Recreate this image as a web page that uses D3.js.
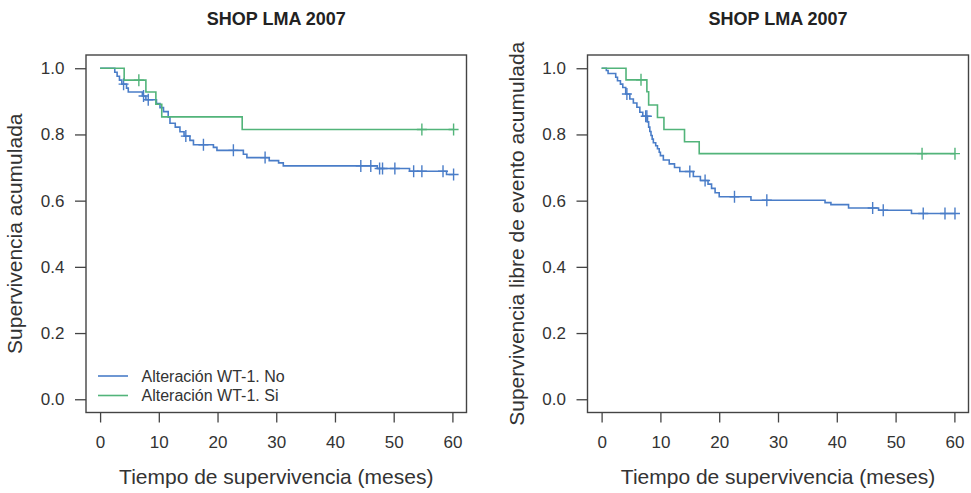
<!DOCTYPE html>
<html>
<head>
<meta charset="utf-8">
<script src="https://cdn.jsdelivr.net/npm/d3@7"></script>
<style>
  html, body { margin: 0; padding: 0; background: #fff; }
  svg { display: block; font-family: "Liberation Sans", Arial, sans-serif; }
</style>
</head>
<body>
<svg id="chart" width="971" height="493"></svg>
<script>
// Kaplan-Meier step data: event times (months) and survival after each step
const groupNames = ["Alteración WT-1. No", "Alteración WT-1. Si"];
const groupColors = ["#4a7dc8", "#52b47a"];

// Overall survival, WT-1 not altered
const osNoTime = [0, 2.5, 2.9, 3.3, 3.7, 4.5, 4.8, 7.2, 7.8, 9.6, 10.2, 10.8, 11.6, 11.9, 12.8, 13.6, 14.3, 15.3, 15.9, 19.3, 19.9, 24.4, 25.0, 28.8, 30.4, 31.2, 47.2, 52.7, 59.0];
const osNoSurv = [1.0, 0.988, 0.976, 0.964, 0.952, 0.940, 0.928, 0.916, 0.905, 0.893, 0.881, 0.869, 0.852, 0.834, 0.822, 0.808, 0.795, 0.782, 0.769, 0.761, 0.752, 0.740, 0.730, 0.721, 0.714, 0.705, 0.697, 0.689, 0.679];
const osNoCens = [4.0, 7.4, 8.2, 14.6, 17.6, 22.7, 28.1, 44.4, 46.1, 47.6, 48.1, 50.2, 53.4, 54.8, 58.4, 60.2];

// Overall survival, WT-1 altered
const osSiTime = [0, 4.1, 7.8, 9.5, 10.5, 24.2];
const osSiSurv = [1.0, 0.964, 0.928, 0.891, 0.853, 0.815];
const osSiCens = [6.6, 54.8, 60.2];

// Event-free survival, WT-1 not altered
const efsNoTime = [0, 0.8, 1.1, 2.4, 2.7, 3.2, 3.6, 4.1, 4.8, 5.4, 6.0, 6.5, 7.0, 7.8, 8.0, 8.2, 8.4, 8.6, 8.8, 9.2, 9.5, 9.8, 10.0, 10.5, 11.5, 12.4, 13.3, 15.6, 16.8, 18.1, 18.7, 19.3, 20.0, 25.4, 38.0, 39.0, 42.0, 47.1, 52.7];
const efsNoSurv = [1.0, 0.993, 0.984, 0.973, 0.962, 0.952, 0.942, 0.922, 0.907, 0.895, 0.882, 0.867, 0.855, 0.838, 0.822, 0.809, 0.797, 0.786, 0.775, 0.766, 0.757, 0.746, 0.736, 0.723, 0.711, 0.700, 0.688, 0.673, 0.661, 0.650, 0.637, 0.624, 0.612, 0.601, 0.594, 0.588, 0.578, 0.571, 0.561];
const efsNoCens = [4.3, 7.5, 7.7, 15.0, 17.6, 22.6, 28.1, 46.1, 47.9, 54.7, 58.4, 60.1];

// Event-free survival, WT-1 altered
const efsSiTime = [0, 4.15, 7.7, 8.0, 9.5, 10.6, 14.1, 16.6];
const efsSiSurv = [1.0, 0.965, 0.929, 0.889, 0.851, 0.815, 0.778, 0.742];
const efsSiCens = [6.7, 54.5, 60.1];

const xTicks = [0, 10, 20, 30, 40, 50, 60];
const yTicks = [0, 0.2, 0.4, 0.6, 0.8, 1.0];
const plotTitle = "SHOP LMA 2007";
const xLabel = "Tiempo de supervivencia (meses)";
const yLabels = ["Supervivencia acumulada", "Supervivencia libre de evento acumulada"];

const panels = [
  { left: 86, right: 466.5, yLabel: yLabels[0], legend: true,
    series: [
      { time: osNoTime, surv: osNoSurv, cens: osNoCens },
      { time: osSiTime, surv: osSiSurv, cens: osSiCens }
    ] },
  { left: 587.5, right: 968.5, yLabel: yLabels[1], legend: false,
    series: [
      { time: efsNoTime, surv: efsNoSurv, cens: efsNoCens },
      { time: efsSiTime, surv: efsSiSurv, cens: efsSiCens }
    ] }
];

const plotTop = 55, plotBottom = 412.5;
const svg = d3.select("#chart");
const textColor = "#333";

function survAt(s, t) {
  let v = s.surv[0];
  for (let i = 0; i < s.time.length; i++) if (s.time[i] <= t) v = s.surv[i];
  return v;
}

panels.forEach(p => {
  const x = d3.scaleLinear().domain([-2.4, 62.4]).range([p.left, p.right]);
  const y = d3.scaleLinear().domain([-0.04, 1.04]).range([plotBottom, plotTop]);
  const g = svg.append("g");

  // title
  g.append("text")
    .attr("x", (p.left + p.right) / 2).attr("y", 25)
    .attr("text-anchor", "middle")
    .attr("font-size", 18).attr("font-weight", "bold")
    .attr("fill", "#222")
    .text(plotTitle);

  // axes
  const xAxis = d3.axisBottom(x).tickValues(xTicks).tickSize(10).tickSizeOuter(0).tickPadding(13).tickFormat(d3.format("d"));
  const yAxis = d3.axisLeft(y).tickValues(yTicks).tickSize(11).tickSizeOuter(0).tickPadding(10.5).tickFormat(d3.format(".1f"));

  const gx = g.append("g").attr("transform", `translate(0,${plotBottom})`).call(xAxis);
  const gy = g.append("g").attr("transform", `translate(${p.left},0)`).call(yAxis);
  [gx, gy].forEach(a => {
    a.select(".domain").remove();
    a.selectAll(".tick line").attr("stroke", "#444").attr("stroke-width", 1.3);
    a.selectAll(".tick text").attr("fill", textColor).attr("font-size", 17)
      .attr("font-family", "Liberation Sans, Arial, sans-serif");
  });

  // axis titles
  g.append("text")
    .attr("x", (p.left + p.right) / 2).attr("y", 484)
    .attr("text-anchor", "middle").attr("font-size", 21).attr("fill", textColor)
    .text(xLabel);
  const ylx = p.left - 64;
  g.append("text")
    .attr("transform", `translate(${ylx},${(plotTop + plotBottom) / 2}) rotate(-90)`)
    .attr("text-anchor", "middle").attr("font-size", 21).attr("fill", textColor)
    .text(p.yLabel);

  // survival curves
  const line = d3.line().x(d => x(d[0])).y(d => y(d[1])).curve(d3.curveStepAfter);
  p.series.forEach((s, i) => {
    const tEnd = d3.max(s.cens.concat(s.time));
    const pts = s.time.map((t, k) => [t, s.surv[k]]);
    pts.push([tEnd, s.surv[s.surv.length - 1]]);
    g.append("path").datum(pts)
      .attr("d", line).attr("fill", "none")
      .attr("stroke", groupColors[i]).attr("stroke-width", 1.6);
    // censoring marks
    g.selectAll(null).data(s.cens).enter().append("path")
      .attr("d", t => {
        const cx = x(t), cy = y(survAt(s, t));
        return `M${cx - 5},${cy}H${cx + 5}M${cx},${cy - 6}V${cy + 6}`;
      })
      .attr("stroke", groupColors[i]).attr("stroke-width", 1.4).attr("fill", "none");
  });

  // plot box
  g.append("rect")
    .attr("x", p.left).attr("y", plotTop)
    .attr("width", p.right - p.left).attr("height", plotBottom - plotTop)
    .attr("fill", "none").attr("stroke", "#444").attr("stroke-width", 1.4);

  // legend
  if (p.legend) {
    const lg = g.append("g");
    groupNames.forEach((name, i) => {
      const ly = 376 + i * 19.5;
      lg.append("line")
        .attr("x1", 98).attr("x2", 128).attr("y1", ly).attr("y2", ly)
        .attr("stroke", groupColors[i]).attr("stroke-width", 1.6);
      lg.append("text")
        .attr("x", 141.5).attr("y", ly).attr("dy", "0.35em")
        .attr("font-size", 16).attr("fill", textColor)
        .text(name);
    });
  }
});
</script>
</body>
</html>
